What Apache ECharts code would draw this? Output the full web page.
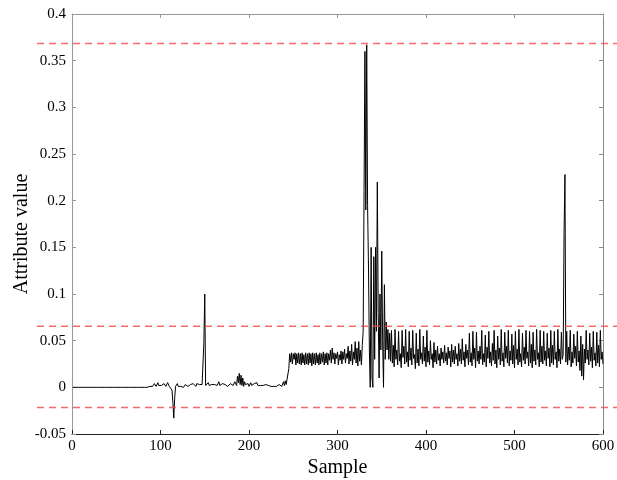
<!DOCTYPE html>
<html>
<head>
<meta charset="utf-8">
<script src="https://cdn.jsdelivr.net/npm/echarts@6/dist/echarts.min.js"></script>
<style>
html,body{margin:0;padding:0;background:#fff;}
#chart{width:617px;height:480px;}
</style>
</head>
<body>
<div id="chart"></div>
<script>
// Samples 1..87: flat start
const flatValues = [
0,0,0,0,0,0,0,0,0,0, 0,0,0,0,0,0,0,0,0,0, 0,0,0,0,0,0,0,0,0,0,
0,0,0,0,0,0,0,0,0,0, 0,0,0,0,0,0,0,0,0,0, 0,0,0,0,0,0,0,0,0,0,
0,0,0,0,0,0,0,0,0,0, 0,0,0,0,0,0,0,0,0,0, 0,0,0,0,0,0,0
];
// Samples 88..244: low-level noise
const noiseValues = [
0.001,0.000,0.002,0.001,0.003,0.004,0.002,0.001,0.003,0.005,
0.002,0.001,0.000,0.002,0.001,0.003,0.004,0.002,0.001,0.003,
0.005,0.003,0.001,0.002,0.000,-0.003,-0.016,-0.033,-0.012,0.001,
0.002,0.004,0.001,0.000,0.002,0.001,0.003,0.002,0.000,0.001,
0.003,0.002,0.004,0.001,0.002,0.000,0.003,0.001,0.002,0.004,
0.002,0.003,0.001,0.004,0.002,0.005,0.003,0.002,0.004,0.003,
0.002,0.048,0.100,0.002,0.004,0.003,0.005,0.002,0.004,0.001,
0.003,0.002,0.005,0.003,0.001,0.004,0.002,0.003,0.006,0.002,
0.001,0.003,0.004,0.002,0.005,0.003,0.002,0.004,0.001,0.003,
0.002,0.004,0.003,0.005,0.002,0.003,0.006,0.004,0.002,0.012,
0.005,0.015,0.003,0.013,0.002,0.010,0.001,0.006,0.003,0.005,
0.002,0.004,0.001,0.003,0.005,0.002,0.003,0.001,0.004,0.002,
0.003,0.005,0.002,0.001,0.003,0.002,0.004,0.001,0.002,0.000,
0.001,0.003,0.002,0.001,0.002,0.004,0.002,0.001,0.003,0.002,
0.001,0.002,0.000,0.001,0.002,0.001,0.003,0.002,0.004,0.001,
0.003,0.006,0.002,0.007,0.003,0.001,0.002
];
// Samples 245..328: plateau
const plateauValues = [
0.020,0.036,0.027,0.037,0.025,0.036,0.030,0.037,0.024,0.036,
0.026,0.037,0.025,0.036,0.024,0.037,0.026,0.035,0.024,0.037,
0.025,0.036,0.024,0.037,0.026,0.036,0.023,0.037,0.025,0.036,
0.024,0.037,0.026,0.035,0.024,0.037,0.025,0.036,0.027,0.038,
0.024,0.036,0.026,0.037,0.024,0.036,0.029,0.040,0.026,0.042,
0.030,0.037,0.025,0.036,0.031,0.038,0.024,0.035,0.029,0.039,
0.025,0.038,0.030,0.041,0.026,0.036,0.031,0.044,0.025,0.039,
0.028,0.046,0.024,0.038,0.030,0.049,0.026,0.042,0.023,0.049,
0.028,0.040,0.024,0.045
];
// Samples 329..360: burst
const burstValues = [
0.060,0.210,0.360,0.190,0.367,0.195,0.130,0.040,0.000,0.150,
0.010,0.000,0.140,0.030,0.150,0.060,0.220,0.080,0.010,0.100,
0.040,0.146,0.050,0.000,0.110,0.030,0.070,0.040,0.062,0.030,
0.058,0.028
];
// Samples 361..600: tail
const tailValues = [
0.061,0.026,0.045,0.022,0.062,0.030,0.040,0.024,0.060,0.028,
0.036,0.021,0.061,0.032,0.044,0.025,0.062,0.027,0.038,0.022,
0.060,0.029,0.042,0.024,0.061,0.031,0.035,0.020,0.058,0.026,
0.041,0.023,0.062,0.030,0.037,0.025,0.055,0.028,0.043,0.022,
0.061,0.027,0.039,0.024,0.050,0.030,0.036,0.021,0.048,0.027,
0.040,0.025,0.044,0.029,0.036,0.023,0.042,0.030,0.038,0.026,
0.045,0.028,0.037,0.024,0.043,0.031,0.039,0.022,0.046,0.027,
0.040,0.025,0.044,0.030,0.036,0.023,0.047,0.028,0.041,0.025,
0.052,0.029,0.038,0.022,0.046,0.031,0.040,0.024,0.058,0.027,
0.037,0.023,0.060,0.030,0.042,0.021,0.059,0.028,0.039,0.025,
0.044,0.030,0.061,0.024,0.036,0.027,0.056,0.022,0.043,0.031,
0.060,0.026,0.038,0.023,0.047,0.029,0.061,0.025,0.040,0.021,
0.055,0.030,0.042,0.024,0.062,0.028,0.037,0.022,0.059,0.031,
0.044,0.026,0.061,0.023,0.039,0.029,0.057,0.025,0.045,0.021,
0.060,0.030,0.041,0.024,0.062,0.027,0.036,0.022,0.058,0.029,
0.043,0.025,0.061,0.031,0.038,0.023,0.060,0.026,0.046,0.021,
0.059,0.028,0.040,0.024,0.062,0.030,0.037,0.022,0.061,0.027,
0.044,0.025,0.060,0.029,0.039,0.023,0.058,0.031,0.042,0.022,
0.061,0.026,0.045,0.024,0.060,0.030,0.038,0.021,0.062,0.028,
0.041,0.025,0.059,0.030,0.035,0.165,0.228,0.027,0.060,0.024,
0.043,0.029,0.061,0.022,0.038,0.026,0.057,0.031,0.044,0.023,
0.060,0.027,0.039,0.018,0.055,0.012,0.046,0.008,0.041,0.026,
0.061,0.030,0.040,0.024,0.058,0.028,0.043,0.021,0.060,0.029,
0.037,0.023,0.059,0.026,0.045,0.022,0.061,0.030,0.038,0.025
];
const thresholds = [0.3685, 0.0655, -0.0215];
const xTicks = [0, 100, 200, 300, 400, 500, 600];
const yTicks = [-0.05, 0, 0.05, 0.1, 0.15, 0.2, 0.25, 0.3, 0.35, 0.4];

const allValues = flatValues.concat(noiseValues, plateauValues, burstValues, tailValues);
const seriesData = allValues.map((v, i) => [i + 1, v]);

const FONT = 'Liberation Serif';
const chart = echarts.init(document.getElementById('chart'), null, {renderer: 'canvas'});

const yMin = yTicks[0], yMax = yTicks[yTicks.length - 1];
const xMin = xTicks[0], xMax = xTicks[xTicks.length - 1];

const option = {
  animation: false,
  backgroundColor: '#fff',
  grid: [
    {left: 72, right: 14, top: 14, bottom: 46, containLabel: false, outerBoundsMode: 'none'},
    {left: 37, right: 0, top: 14, bottom: 46, containLabel: false, outerBoundsMode: 'none'}
  ],
  xAxis: [
    {
      type: 'value', gridIndex: 0, position: 'bottom', min: xMin, max: xMax, interval: 100,
      name: 'Sample', nameLocation: 'middle', nameGap: 24, nameMoveOverlap: false,
      nameTextStyle: {fontFamily: FONT, fontSize: 20, color: '#000'},
      axisLine: {show: true, onZero: false, lineStyle: {color: '#222', width: 1}},
      axisTick: {show: true, inside: true, length: 4, lineStyle: {color: '#222'}},
      axisLabel: {fontFamily: FONT, fontSize: 15, color: '#000', margin: 5},
      splitLine: {show: false}
    },
    {
      type: 'value', gridIndex: 0, position: 'top', min: xMin, max: xMax, interval: 100,
      axisLine: {show: true, onZero: false, lineStyle: {color: '#999', width: 1}},
      axisTick: {show: true, inside: true, length: 4, lineStyle: {color: '#999'}},
      axisLabel: {show: false},
      splitLine: {show: false}
    },
    {
      type: 'value', gridIndex: 1, min: 0, max: 1, show: false
    }
  ],
  yAxis: [
    {
      type: 'value', gridIndex: 0, position: 'left', min: yMin, max: yMax, interval: 0.05,
      name: 'Attribute value', nameLocation: 'middle', nameGap: 40, nameMoveOverlap: false,
      nameTextStyle: {fontFamily: FONT, fontSize: 20, color: '#000', padding: [0, 20, 0, 0]},
      axisLine: {show: true, onZero: false, lineStyle: {color: '#999', width: 1}},
      axisTick: {show: true, inside: true, length: 4, lineStyle: {color: '#999'}},
      axisLabel: {fontFamily: FONT, fontSize: 15, color: '#000', margin: 6,
        formatter: v => String(Math.round(v * 1000) / 1000)},
      splitLine: {show: false}
    },
    {
      type: 'value', gridIndex: 0, position: 'right', min: yMin, max: yMax, interval: 0.05,
      axisLine: {show: true, onZero: false, lineStyle: {color: '#888', width: 1}},
      axisTick: {show: true, inside: true, length: 4, lineStyle: {color: '#888'}},
      axisLabel: {show: false},
      splitLine: {show: false}
    },
    {
      type: 'value', gridIndex: 1, min: yMin, max: yMax, show: false
    }
  ],
  series: [
    {
      type: 'line', xAxisIndex: 0, yAxisIndex: 0, data: seriesData,
      showSymbol: false, symbol: 'none', sampling: null, z: 2,
      lineStyle: {color: '#000', width: 1}
    }
  ].concat(thresholds.map(t => ({
    type: 'line', xAxisIndex: 2, yAxisIndex: 2, data: [[0, t], [1, t]],
    showSymbol: false, symbol: 'none', z: 5, silent: true,
    lineStyle: {color: 'rgba(240,70,70,0.8)', width: 1.5, type: [7, 5]}
  })))
};
chart.setOption(option);
</script>
</body>
</html>
